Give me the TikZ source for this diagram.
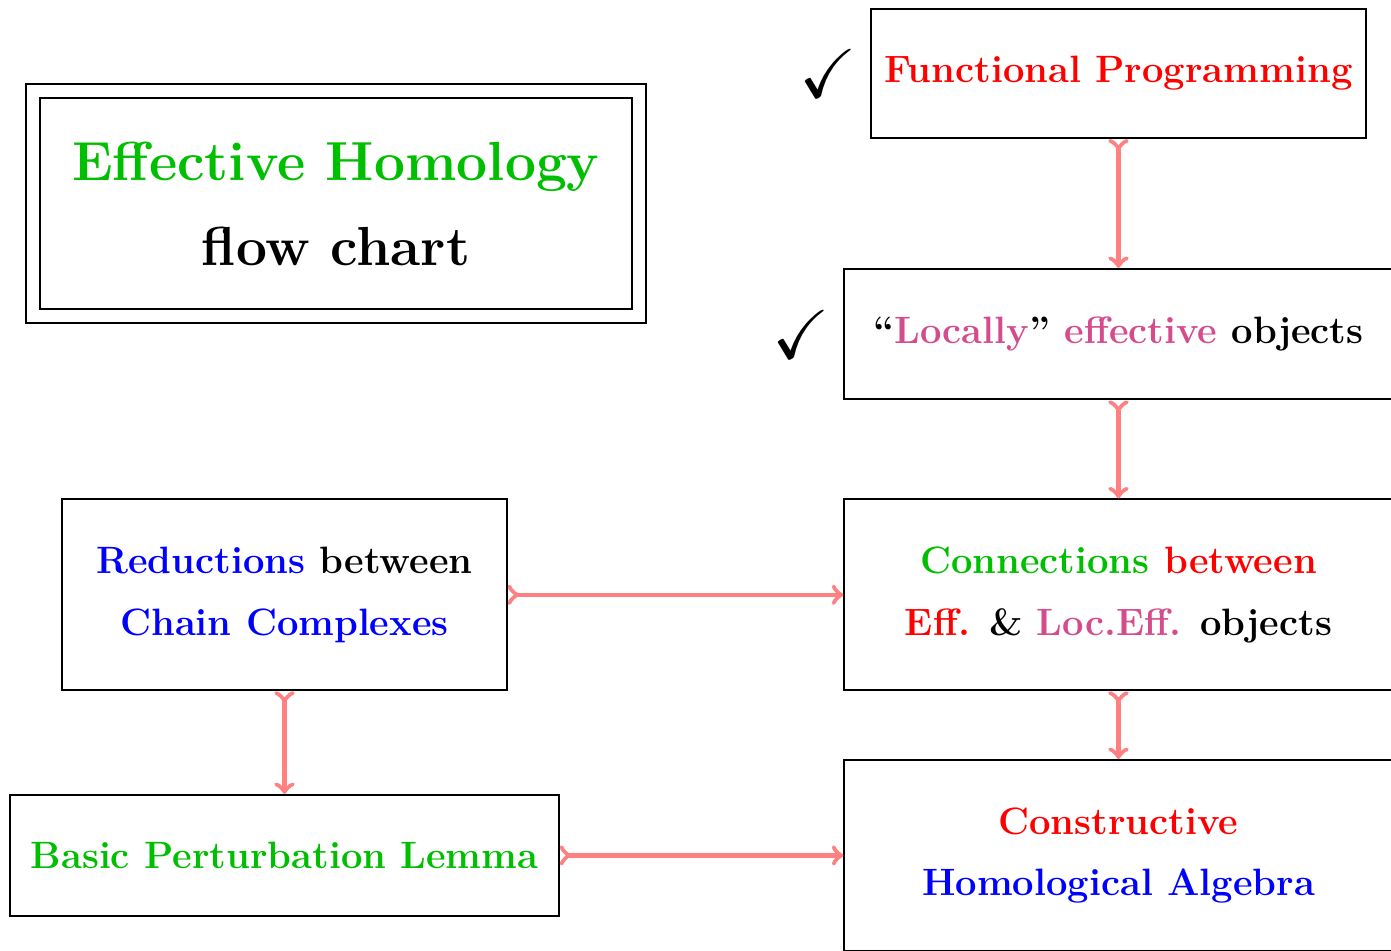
\documentclass[tikz,border=0pt]{standalone}
\usepackage{amssymb}
\usepackage{fontspec}
\usetikzlibrary{arrows,positioning}
\definecolor{effgreen}{RGB}{0,190,0}
\definecolor{locpink}{RGB}{212,76,140}

\begin{document}
\begin{tikzpicture}[
node distance=3.58cm,
block/.style={rectangle, draw, thick, align=center, font=\fontsize{14.9}{18}\selectfont\bfseries, minimum width=7.53cm},
heading/.style={rectangle, draw, thick, double, double distance=4.7pt, align=center, font=\fontsize{21.5}{25}\selectfont\bfseries, minimum width=8.32cm, minimum height=3.09cm},
done/.style={inner sep=0pt, font=\fontsize{27}{30}\selectfont},
flow/.style={>->, red!50, line width=1.8pt}
]
\useasboundingbox (0,0) rectangle (19.106,-13.062);
\node (fp) [block, minimum width=6.80cm, minimum height=1.77cm] at (15.363,-1.010) {\textcolor{red}{Functional Programming}};
\node (loc) [block, below of=fp, minimum height=1.79cm] {``\textcolor{locpink}{Locally}'' \textcolor{locpink}{effective} objects};
\node (conn) [block, below of=loc, minimum height=2.62cm] {\textcolor{effgreen}{Connections} \textcolor{red}{between}\\[6pt] \textcolor{red}{Eff.} \& \textcolor{locpink}{Loc.Eff.} objects};
\node (cha) [block, below of=conn, minimum height=2.62cm] {\textcolor{red}{Constructive}\\[6pt] \textcolor{blue}{Homological Algebra}};
\node (red) [block, left of=conn, node distance=11.455cm, minimum width=6.10cm, minimum height=2.62cm] {\textcolor{blue}{Reductions} between\\[6pt] \textcolor{blue}{Chain Complexes}};
\node (bpl) [block, below of=red, minimum height=1.66cm] {\textcolor{effgreen}{Basic Perturbation Lemma}};
\node (head) [heading, left of=fp, node distance=10.748cm, yshift=-1.79cm] {\textcolor{effgreen}{Effective Homology}\\[8.5pt] flow chart};

% ticks for the parts already done
\node (ok1) [done, left=5pt of fp] {$\checkmark$};
\node (ok2) [done, left=5pt of loc] {$\checkmark$};

\draw [flow] (fp) -- (loc);
\draw [flow] (loc) -- (conn);
\draw [flow] (conn) -- (cha);
\draw [flow] (red) -- (conn);
\draw [flow] (red) -- (bpl);
\draw [flow] (bpl) -- (cha);
\end{tikzpicture}
\end{document}
